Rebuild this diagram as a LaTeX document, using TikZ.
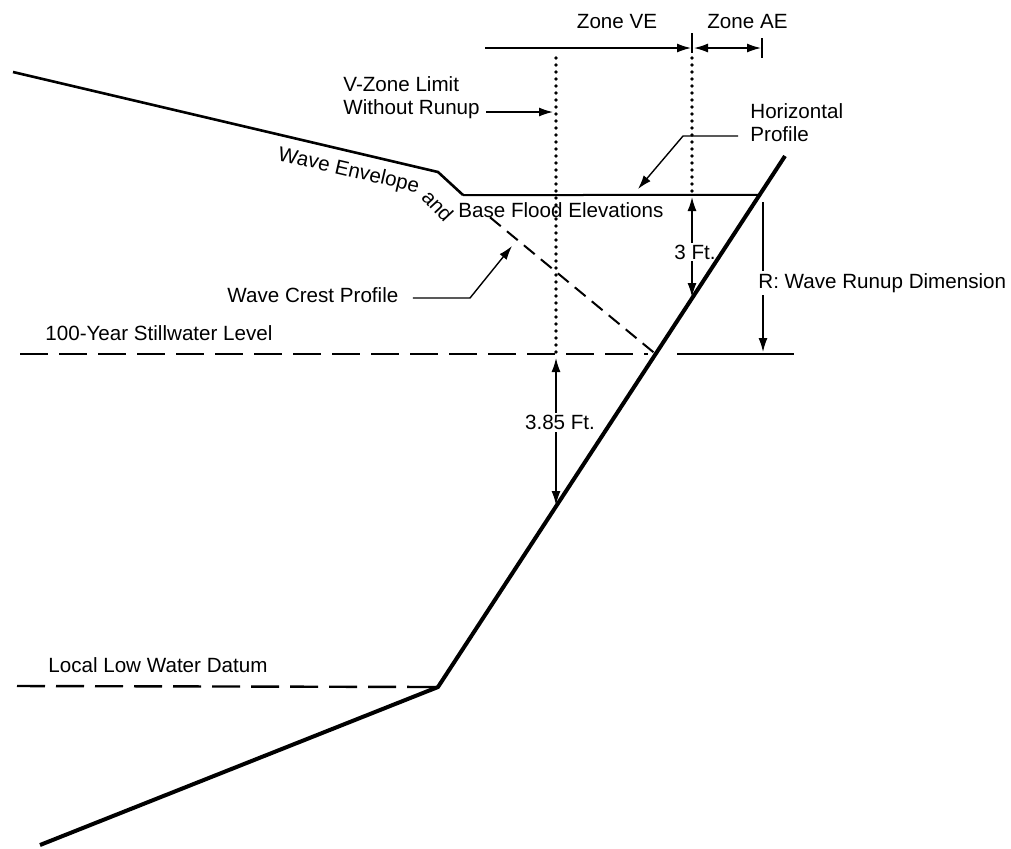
\documentclass[tikz,border=0pt]{standalone}
\usepackage{fontspec}
\setmainfont{Liberation Sans}
\usetikzlibrary{arrows.meta, calc, decorations.text}
\newcommand\lblfont{\fontsize{10.3}{11.5}\selectfont}

\begin{document}
\begin{tikzpicture}[x=0.5pt,y=-0.5pt,
  lbl/.style={font=\lblfont,inner sep=1pt},
  profile/.style={line width=2pt,line join=round},
  limit/.style={line width=1.8pt,line cap=round,dash pattern=on 0pt off 3.5pt},
  level/.style={line width=1.2pt,dash pattern=on 14pt off 5.5pt},
  dim/.style={line width=0.7pt,-{Latex[length=7pt,width=4.5pt]}},
  dimboth/.style={line width=0.7pt,{Latex[length=7pt,width=4.5pt]}-{Latex[length=7pt,width=4.5pt]}}]
\useasboundingbox (0,0) rectangle (1011,848);
% Ground profile points
\coordinate (land) at (13,72);
\coordinate (kink) at (438,172);
\coordinate (toe) at (463,195);
\coordinate (top) at (785,156);
\coordinate (low) at (438,687);
\coordinate (end) at (40,845);
\coordinate (hp) at ($(low)!0.9266!(top)$);
\coordinate (swx) at ($(low)!0.6271!(top)$);
% Wave envelope and horizontal profile
\draw[line width=1.3pt,line join=round] (land) -- (kink) -- (toe);
\draw[line width=1pt] (toe) -- (hp);
\path[decorate,decoration={text along path,
  text={|\lblfont|Wave Envelope and}}]
  (277,160) -- (415,192) -- (443,222);
\node[lbl,anchor=base west] (bfe) at (456,217) {Base Flood Elevations};
% Wave crest profile
\draw[line width=1pt,dash pattern=on 7pt off 4pt] ($(toe)!0.14!(swx)$) -- (swx);
% Stillwater level and low water datum
\draw[level] (20,354) -- (648,354);
\draw[line width=1.2pt] (677,354) -- (794,354);
\node[lbl,anchor=west] (swl) at (43,333) {100-Year Stillwater Level};
\draw[level] (17,686) -- (low);
\node[lbl,anchor=west] (llwd) at (46,665) {Local Low Water Datum};
% Zone limits
\coordinate (vzt) at (556,58);
\coordinate (vzb) at (556,354);
\coordinate (aet) at (692,58);
\coordinate (aeb) at (692,195);
\draw[limit] (vzt) -- (vzb);
\draw[limit] (aet) -- (aeb);
\draw[line width=0.8pt] (692,33) -- (692,53);
\draw[line width=0.8pt] (762,38) -- (762,58);
\draw[dim] (485,48) -- (691,48);
\draw[dimboth] (694,48) -- (761,48);
\node[lbl] (zve) at (617,22) {Zone VE};
\node[lbl,anchor=west] (zae) at (705,22) {Zone AE};
% Labels with leaders
\node[lbl,anchor=west,align=left] (vzone) at (341,98) {V-Zone Limit\\Without Runup};
\coordinate (vz) at (553,112);
\draw[dim] ([xshift=2pt]vzone.east |- vz) -- (vz);
\node[lbl,anchor=west,align=left] (hprof) at (748,123) {Horizontal\\Profile};
\coordinate (hpk) at (683,136);
\coordinate (hpa) at (638,189);
\draw[dim] ([xshift=-5pt]hprof.west |- hpk) -- (hpk) -- (hpa);
\node[lbl,anchor=west] (wcrest) at (225,295) {Wave Crest Profile};
\coordinate (wck) at (470,298);
\coordinate (wca) at (512,246);
\draw[dim] ([xshift=6pt]wcrest.east |- wck) -- (wck) -- (wca);
% Dimensions
\coordinate (ft3b) at (692,297);
\draw[dimboth] (692,197) -- node[lbl,fill=white,pos=0.55,xshift=1.5pt] (ft3) {3 Ft.} (ft3b);
\coordinate (ft385b) at (556,505);
\draw[dimboth] (556,358) -- node[lbl,fill=white,pos=0.44,xshift=2pt] (ft385) {3.85 Ft.} (ft385b);
\draw[dim] (763,202) -- (763,352);
\node[lbl,fill=white,anchor=west] (runup) at (756,283) {R: Wave Runup Dimension};
% Shore slope on top
\draw[profile] (end) -- (low) -- (top);
\end{tikzpicture}
\end{document}
